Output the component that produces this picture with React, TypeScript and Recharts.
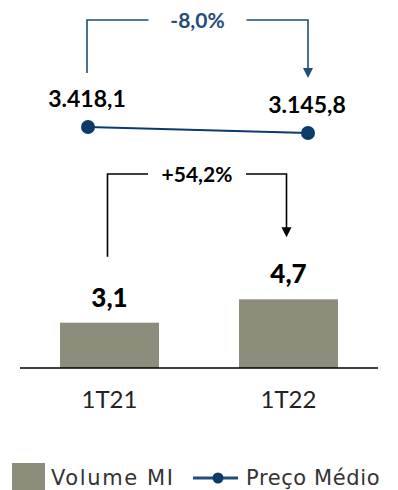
import React from 'react';
import { ComposedChart, Bar, Line, XAxis, YAxis, Legend } from 'recharts';

const categories = ['1T21', '1T22'];
const volumeMI = [3.1, 4.7];
const precoMedio = [3418.1, 3145.8];
const volumeLabels = ['3,1', '4,7'];
const precoLabels = ['3.418,1', '3.145,8'];
const volumeChange = '+54,2%';
const precoChange = '-8,0%';

const data = categories.map((name, i) => ({
  name,
  volume: volumeMI[i],
  preco: precoMedio[i],
}));

const BAR_COLOR = '#8e8c7a';
const NAVY = '#0b3a6b';
const BLUE_TEXT = '#1f4e79';

// points collected while rendering so the index-1 mark can draw the bracket
const barPts: { x: number; y: number }[] = [];
const linePts: { x: number; y: number }[] = [];

const Bracket = ({ x0, y0, x1, y1, topY, label, color }: any) => {
  const mid = (x0 + x1) / 2;
  return (
    <g>
      <path
        d={`M${x0},${y0} V${topY} H${mid - 49} M${mid + 49},${topY} H${x1} V${y1 - 9}`}
        fill="none"
        stroke={color}
        strokeWidth={1.6}
      />
      <polygon points={`${x1 - 5},${y1 - 10} ${x1 + 5},${y1 - 10} ${x1},${y1}`} fill={color} />
      <text
        x={mid}
        y={topY + 7.5}
        textAnchor="middle"
        fontFamily="Lato, sans-serif"
        fontWeight={700}
        fontSize={21}
        fill={color}
      >
        {label}
      </text>
    </g>
  );
};

const BarShape = (props: any) => {
  const { x, y, width, height, index } = props;
  const cx = x + width / 2;
  barPts[index] = { x: cx, y };
  return (
    <g>
      <rect x={x} y={y} width={width} height={height} fill={BAR_COLOR} />
      <text
        x={cx}
        y={y - 16}
        textAnchor="middle"
        fontFamily="Lato, sans-serif"
        fontWeight={900}
        fontSize={26}
        fill="#000"
      >
        {volumeLabels[index]}
      </text>
      {index === 1 && barPts[0] && (
        <Bracket
          x0={barPts[0].x - 2}
          y0={barPts[0].y - 66}
          x1={cx - 2}
          y1={y - 62}
          topY={174}
          label={volumeChange}
          color="#000"
        />
      )}
    </g>
  );
};

const PrecoDot = (props: any) => {
  const { cx, cy, index } = props;
  linePts[index] = { x: cx, y: cy };
  return (
    <g key={`dot-${index}`}>
      <circle cx={cx} cy={cy} r={7} fill={NAVY} />
      <text
        x={cx - 1}
        y={cy - 20}
        textAnchor="middle"
        fontFamily="Lato, sans-serif"
        fontWeight={700}
        fontSize={23}
        fill="#000"
      >
        {precoLabels[index]}
      </text>
      {index === 1 && linePts[0] && (
        <Bracket
          x0={linePts[0].x - 1}
          y0={linePts[0].y - 54}
          x1={cx}
          y1={cy - 55}
          topY={20}
          label={precoChange}
          color={BLUE_TEXT}
        />
      )}
    </g>
  );
};

const LegendContent = () => (
  <svg width={398} height={30}>
    <rect x={12} y={3} width={33} height={27} fill={BAR_COLOR} />
    <text x={51} y={25} fontFamily="DejaVu Sans, sans-serif" fontSize={21} letterSpacing={1.6} fill="#333">
      Volume MI
    </text>
    <line x1={193} y1={18} x2={238} y2={18} stroke="#1f4e79" strokeWidth={3} />
    <circle cx={218} cy={18} r={5.5} fill={NAVY} />
    <text x={246} y={25} fontFamily="DejaVu Sans, sans-serif" fontSize={21} letterSpacing={0.6} fill="#333">
      Preço Médio
    </text>
  </svg>
);

export default function App() {
  return (
    <div style={{ position: 'absolute', left: 0, top: 0, background: '#fff' }}>
      <ComposedChart
        width={398}
        height={490}
        data={data}
        margin={{ top: 10, right: 20, left: 20, bottom: 0 }}
      >
        <XAxis
          xAxisId="cat"
          dataKey="name"
          axisLine={{ stroke: '#000', strokeWidth: 1.5 }}
          tickLine={false}
          tickMargin={17}
          height={92}
          tick={{ fontSize: 24, fontFamily: 'Lato, sans-serif', fill: '#222' }}
        />
        <XAxis xAxisId="pt" dataKey="name" scale="point" padding={{ left: 68, right: 70 }} hide />
        <YAxis yAxisId="v" domain={[0, 24.5]} hide />
        <YAxis yAxisId="p" domain={[-7520, 8730]} hide />
        <Legend
          verticalAlign="bottom"
          content={LegendContent}
          wrapperStyle={{ left: 0, width: 398, height: 30 }}
        />
        <Bar
          xAxisId="cat"
          yAxisId="v"
          dataKey="volume"
          name="Volume MI"
          barSize={99}
          shape={BarShape}
          isAnimationActive={false}
        />
        <Line
          xAxisId="pt"
          yAxisId="p"
          dataKey="preco"
          name="Preço Médio"
          stroke={NAVY}
          strokeWidth={2}
          dot={PrecoDot}
          activeDot={false}
          isAnimationActive={false}
        />
      </ComposedChart>
    </div>
  );
}
